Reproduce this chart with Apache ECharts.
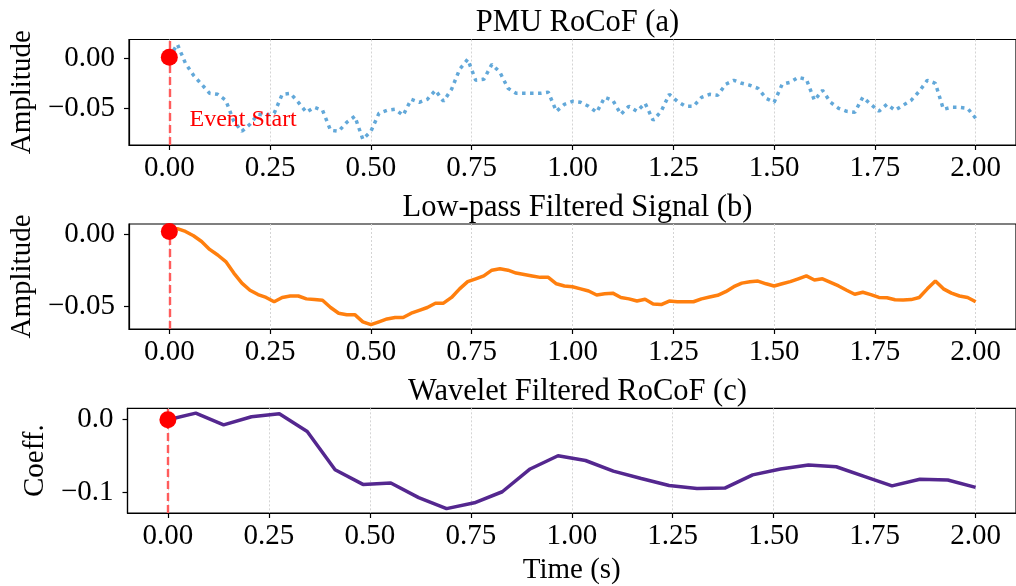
<!DOCTYPE html>
<html>
<head>
<meta charset="utf-8">
<script src="https://cdn.jsdelivr.net/npm/echarts@6/dist/echarts.min.js"></script>
<style>
  html, body { margin: 0; padding: 0; background: #fff; }
  #chart { width: 1016px; height: 586px; }
</style>
</head>
<body>
<div id="chart"></div>
<script>
// time grid of the PMU samples (s)
var time = [0.00,0.02,0.04,0.06,0.08,0.10,0.12,0.14,0.16,0.18,
  0.20,0.22,0.24,0.26,0.28,0.30,0.32,0.34,0.36,0.38,
  0.40,0.42,0.44,0.46,0.48,0.50,0.52,0.54,0.56,0.58,
  0.60,0.62,0.64,0.66,0.68,0.70,0.72,0.74,0.76,0.78,
  0.80,0.82,0.84,0.86,0.88,0.90,0.92,0.94,0.96,0.98,
  1.00,1.02,1.04,1.06,1.08,1.10,1.12,1.14,1.16,1.18,
  1.20,1.22,1.24,1.26,1.28,1.30,1.32,1.34,1.36,1.38,
  1.40,1.42,1.44,1.46,1.48,1.50,1.52,1.54,1.56,1.58,
  1.60,1.62,1.64,1.66,1.68,1.70,1.72,1.74,1.76,1.78,
  1.80,1.82,1.84,1.86,1.88,1.90,1.92,1.94,1.96,1.98,2.00];

// (a) raw RoCoF
var rocof = [0.001,0.014,-0.005,-0.017,-0.026,-0.035,-0.036,-0.042,-0.063,-0.073,
  -0.066,-0.056,-0.057,-0.055,-0.036,-0.035,-0.044,-0.054,-0.049,-0.052,
  -0.072,-0.073,-0.064,-0.058,-0.081,-0.073,-0.055,-0.052,-0.051,-0.057,
  -0.041,-0.044,-0.041,-0.032,-0.043,-0.031,-0.011,-0.001,-0.022,-0.021,
  -0.006,-0.014,-0.030,-0.035,-0.035,-0.035,-0.035,-0.034,-0.053,-0.046,
  -0.043,-0.044,-0.048,-0.054,-0.039,-0.042,-0.056,-0.048,-0.053,-0.045,
  -0.062,-0.053,-0.036,-0.043,-0.048,-0.048,-0.039,-0.036,-0.037,-0.026,
  -0.022,-0.025,-0.027,-0.030,-0.040,-0.044,-0.026,-0.024,-0.019,-0.021,
  -0.042,-0.032,-0.044,-0.050,-0.053,-0.054,-0.039,-0.046,-0.053,-0.046,
  -0.052,-0.047,-0.042,-0.033,-0.022,-0.025,-0.051,-0.049,-0.049,-0.050,-0.060];

// (b) low-pass filtered
var lowpass = [0.002,0.004,0.002,-0.001,-0.005,-0.0105,-0.0144,-0.019,-0.027,-0.034,
  -0.039,-0.042,-0.044,-0.047,-0.044,-0.043,-0.043,-0.045,-0.0455,-0.046,
  -0.051,-0.055,-0.056,-0.056,-0.061,-0.063,-0.061,-0.059,-0.058,-0.058,
  -0.055,-0.053,-0.051,-0.048,-0.048,-0.044,-0.038,-0.033,-0.031,-0.029,
  -0.025,-0.024,-0.025,-0.027,-0.028,-0.029,-0.030,-0.030,-0.0345,-0.036,
  -0.0365,-0.038,-0.0395,-0.0423,-0.0415,-0.041,-0.044,-0.045,-0.0465,-0.0453,
  -0.0486,-0.049,-0.0465,-0.047,-0.047,-0.047,-0.045,-0.0437,-0.0425,-0.040,
  -0.0365,-0.034,-0.033,-0.0326,-0.0345,-0.036,-0.0345,-0.033,-0.031,-0.029,
  -0.0318,-0.031,-0.0335,-0.036,-0.039,-0.0418,-0.0404,-0.042,-0.044,-0.0442,
  -0.0456,-0.0458,-0.0455,-0.044,-0.038,-0.0325,-0.038,-0.041,-0.043,-0.044,-0.047];

// (c) wavelet coefficients, coarser time grid
var waveTime = [0.000,0.069,0.138,0.207,0.276,0.345,0.414,0.483,0.552,0.621,
  0.690,0.759,0.828,0.897,0.966,1.034,1.103,1.172,1.241,1.310,
  1.379,1.448,1.517,1.586,1.655,1.724,1.793,1.862,1.931,2.000];
var wavelet = [-0.001,0.008,-0.008,0.003,0.007,-0.017,-0.069,-0.089,-0.087,-0.107,
  -0.122,-0.114,-0.099,-0.068,-0.050,-0.0565,-0.071,-0.081,-0.0905,-0.0945,
  -0.094,-0.076,-0.068,-0.0625,-0.065,-0.078,-0.091,-0.082,-0.083,-0.093];

var xTicks = [0, 0.25, 0.5, 0.75, 1, 1.25, 1.5, 1.75, 2];
var yTicksA = [-0.05, 0];
var yTicksB = [-0.05, 0];
var yTicksC = [-0.1, 0];
var titles = ['PMU RoCoF (a)', 'Low-pass Filtered Signal (b)', 'Wavelet Filtered RoCoF (c)'];
var yNames = ['Amplitude', 'Amplitude', 'Coeff.'];
var eventTime = 0;
var eventLabel = 'Event Start';
var eventLabelPos = [0.05, -0.061];

var FONT = 'Liberation Serif';

function pairs(xs, ys) {
    return xs.map(function (x, i) { return [x, ys[i]]; });
}
function fmt(d) {
    return function (v) {
        var s = Math.abs(v).toFixed(d);
        return (v < -1e-9 ? '\u2212' : '') + s;
    };
}

var grids = [
    {left: 127.5, top: 39.5, width: 890, height: 105.5},
    {left: 127.5, top: 224, width: 890, height: 105},
    {left: 127.5, top: 408.3, width: 890, height: 105}
];
var yRanges = [[-0.0867, 0.0188], [-0.066, 0.0072], [-0.1279, 0.0145]];
var yTicks = [yTicksA, yTicksB, yTicksC];
var yDigits = [2, 2, 1];
var nameGaps = [90, 90, 74];

var chart = echarts.init(document.getElementById('chart'));

var option = {
    animation: false,
    backgroundColor: '#fff',
    title: titles.map(function (t, i) {
        return {
            text: t, left: 572.5, textAlign: 'center', top: grids[i].top - 37,
            textStyle: {fontFamily: FONT, fontSize: 30.5, fontWeight: 'normal', color: '#000'}
        };
    }),
    grid: grids.map(function (g) {
        return Object.assign({show: true, borderColor: '#000', borderWidth: 1.2, backgroundColor: 'transparent'}, g);
    }),
    xAxis: grids.map(function (g, i) {
        return {
            type: 'value', gridIndex: i, min: -0.1, max: 2.1,
            name: i === 2 ? 'Time (s)' : '',
            nameLocation: 'middle', nameGap: 43,
            nameTextStyle: {fontFamily: FONT, fontSize: 29, color: '#000'},
            axisLine: {show: true, onZero: false, lineStyle: {color: '#000', width: 1.2}},
            axisTick: {show: true, length: 5, customValues: xTicks, lineStyle: {color: '#000', width: 1.2}},
            axisLabel: {customValues: xTicks, margin: 9, fontFamily: FONT, fontSize: 29, color: '#000',
                formatter: fmt(2)},
            splitLine: {show: true, lineStyle: {color: '#d4d4d4', type: [2, 2], width: 1}}
        };
    }),
    yAxis: grids.map(function (g, i) {
        return {
            type: 'value', gridIndex: i, min: yRanges[i][0], max: yRanges[i][1],
            name: yNames[i], nameLocation: 'middle', nameGap: nameGaps[i], nameRotate: 90,
            nameTextStyle: {fontFamily: FONT, fontSize: 29, color: '#000'},
            axisLine: {show: true, onZero: false, lineStyle: {color: '#000', width: 1.2}},
            axisTick: {show: true, length: 5, customValues: yTicks[i], lineStyle: {color: '#000', width: 1.2}},
            axisLabel: {customValues: yTicks[i], margin: 14, fontFamily: FONT, fontSize: 29, color: '#000',
                formatter: fmt(yDigits[i])},
            splitLine: {show: false}
        };
    }),
    series: []
};

var lines = [
    {x: time, y: rocof, color: '#62a8d9', type: [3.5, 4.5], width: 3.5},
    {x: time, y: lowpass, color: '#ff7f0e', type: 'solid', width: 3.5},
    {x: waveTime, y: wavelet, color: '#54278f', type: 'solid', width: 3.5}
];

lines.forEach(function (l, i) {
    var s = {
        type: 'line', xAxisIndex: i, yAxisIndex: i, data: pairs(l.x, l.y),
        showSymbol: false, symbol: 'none', z: 3,
        lineStyle: {color: l.color, width: l.width, type: l.type, cap: 'butt'},
        markLine: {
            silent: true, symbol: 'none', animation: false, z: 4,
            label: {show: false},
            lineStyle: {color: '#ff5c5c', type: [8, 4], width: 2.4, opacity: 1},
            data: [{xAxis: eventTime}]
        }
    };
    if (i === 0) {
        s.markPoint = {
            symbol: 'circle', symbolSize: 0, silent: true,
            label: {show: true, formatter: eventLabel, position: 'right', distance: 0,
                fontFamily: FONT, fontSize: 24, color: '#ff0000'},
            data: [{coord: eventLabelPos}]
        };
    }
    option.series.push(s);
    option.series.push({
        type: 'scatter', xAxisIndex: i, yAxisIndex: i, z: 5,
        symbol: 'circle', symbolSize: 17, itemStyle: {color: '#ff0000', opacity: 1},
        data: [[eventTime, l.y[0]]]
    });
});

chart.setOption(option);
</script>
</body>
</html>
